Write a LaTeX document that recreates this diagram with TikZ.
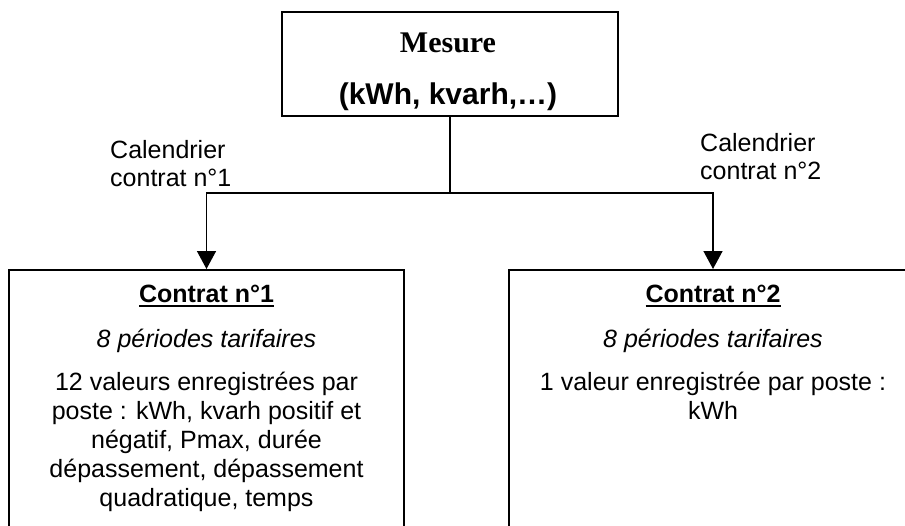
\documentclass[tikz,border=0pt]{standalone}
\usepackage{fontspec}
\setmainfont{Liberation Sans}
\newfontfamily\timesfont{Liberation Serif}
\usetikzlibrary{arrows.meta}
\newcommand\myul[1]{\setbox0\hbox{#1}\rlap{\rule[-5pt]{\wd0}{1.8pt}}\box0}
\begin{document}
\begin{tikzpicture}[x=1pt,y=-1pt,
  frame/.style={draw,line width=1.5pt,inner sep=0pt,rectangle},
  txt/.style={inner sep=0pt,font=\fontsize{25}{29}\selectfont,align=center},
  link/.style={line width=1.5pt},
  arr/.style={line width=1.5pt,-{Triangle[width=19pt,length=18pt]}}]
\useasboundingbox (0,0) rectangle (905,525);
\clip (0,0) rectangle (905,525);
% boxes
\node[frame,minimum width=336pt,minimum height=104pt] (mesure) at (450,64) {};
\node[frame,minimum width=395pt,minimum height=300pt,anchor=north] (c1) at (206.5,269) {};
\node[frame,minimum width=408pt,minimum height=300pt,anchor=north] (c2) at (713,269) {};
% top texts
\node[inner sep=0pt,anchor=base,font=\timesfont\bfseries\fontsize{30}{34}\selectfont] (m1) at (448,52) {Mesure};
\node[inner sep=0pt,anchor=base,font=\bfseries\fontsize{30}{34}\selectfont] (m2) at (448,104) {(kWh, kvarh,…)};
% labels
\node[txt,anchor=base west,align=left] (cal1a) at (110,158) {Calendrier};
\node[txt,anchor=base west,align=left] (cal1b) at (110,186) {contrat n°1};
\node[txt,anchor=base west,align=left] (cal2a) at (700,151) {Calendrier};
\node[txt,anchor=base west,align=left] (cal2b) at (700,179) {contrat n°2};
% contract 1
\node[txt,anchor=base,font=\bfseries\fontsize{25}{29}\selectfont] (t1) at (206.5,302) {\myul{Contrat n°1}};
\node[txt,anchor=base,font=\itshape\fontsize{25}{29}\selectfont] (p1) at (206.5,347) {8 périodes tarifaires};
\node[txt,anchor=base] (b1) at (206.5,506) {12 valeurs enregistrées par\\poste : kWh, kvarh positif et\\négatif, Pmax, durée\\dépassement, dépassement\\quadratique, temps};
% contract 2
\node[txt,anchor=base,font=\bfseries\fontsize{25}{29}\selectfont] (t2) at (713,302) {\myul{Contrat n°2}};
\node[txt,anchor=base,font=\itshape\fontsize{25}{29}\selectfont] (p2) at (713,347) {8 périodes tarifaires};
\node[txt,anchor=base] (b2) at (713,419) {1 valeur enregistrée par poste :\\kWh};
% connectors
\coordinate (split) at (mesure.south |- 0,193);
\draw[link] (mesure.south) -- (split);
\draw[arr] (split) -| (c1.north);
\draw[arr] (split) -| (c2.north);
\end{tikzpicture}
\end{document}
